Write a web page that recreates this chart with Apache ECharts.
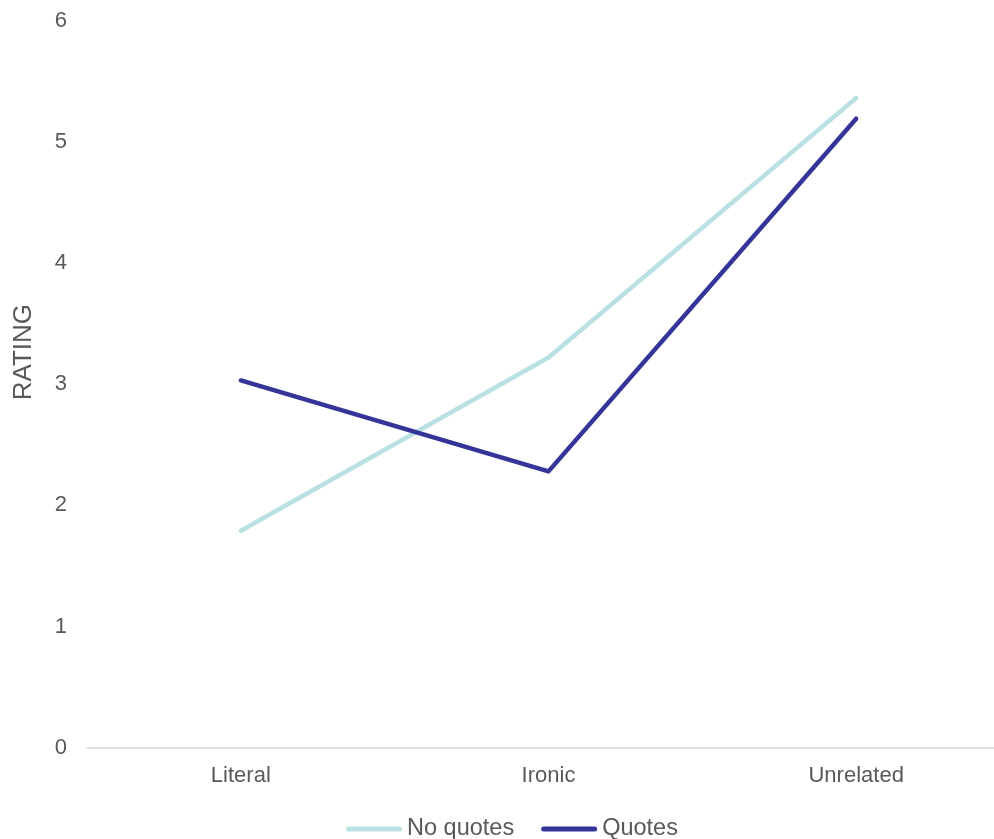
<!DOCTYPE html>
<html>
<head>
<meta charset="utf-8">
<script src="https://cdn.jsdelivr.net/npm/echarts@6/dist/echarts.min.js"></script>
<style>
  html, body { margin: 0; padding: 0; background: #fff; overflow: hidden; }
  #chart { width: 1010px; height: 839px; }
</style>
</head>
<body>
<div id="chart"></div>
<script>
// Mean ratings per condition
const categories = ['Literal', 'Ironic', 'Unrelated'];
const noQuotes = [1.79, 3.22, 5.36];
const quotes = [3.03, 2.28, 5.19];
const yTicks = [0, 1, 2, 3, 4, 5, 6];

const textColor = '#595959';
const font = '"Liberation Sans", Arial, sans-serif';
// rounded-end stroke used as legend key
const lineIcon = 'path://M2.5,0 L53.5,0 A2.5,2.5 0 0 1 53.5,5 L2.5,5 A2.5,2.5 0 0 1 2.5,0 Z';

const chart = echarts.init(document.getElementById('chart'));
chart.setOption({
  animation: false,
  textStyle: { fontFamily: font },
  grid: { left: 87, right: 0, top: 20.5, bottom: 91.3, containLabel: false },
  legend: {
    left: 346,
    top: 817,
    padding: 0,
    itemWidth: 56,
    itemHeight: 5,
    itemGap: 27,
    textStyle: { color: textColor, fontSize: 23.5, fontFamily: font },
    data: [
      { name: 'No quotes', icon: lineIcon },
      { name: 'Quotes', icon: lineIcon }
    ]
  },
  xAxis: {
    type: 'category',
    data: categories,
    boundaryGap: true,
    axisLine: { lineStyle: { color: '#d9d9d9', width: 1.5 } },
    axisTick: { show: false },
    axisLabel: { color: textColor, fontSize: 22, margin: 17 }
  },
  yAxis: {
    type: 'value',
    min: yTicks[0],
    max: yTicks[yTicks.length - 1],
    interval: 1,
    name: 'RATING',
    nameLocation: 'middle',
    nameGap: 50,
    nameTextStyle: { color: textColor, fontSize: 26, padding: [0, 0, 0, 64] },
    axisLine: { show: false },
    axisTick: { show: false },
    splitLine: { show: false },
    axisLabel: { color: textColor, fontSize: 22, margin: 20 }
  },
  series: [
    {
      name: 'No quotes',
      type: 'line',
      data: noQuotes,
      symbol: 'none',
      color: '#b9e0e3',
      lineStyle: { width: 4.5, color: '#b9e0e3', cap: 'round', join: 'round' }
    },
    {
      name: 'Quotes',
      type: 'line',
      data: quotes,
      symbol: 'none',
      color: '#343499',
      lineStyle: { width: 4.5, color: '#343499', cap: 'round', join: 'round' }
    }
  ]
});
</script>
</body>
</html>
